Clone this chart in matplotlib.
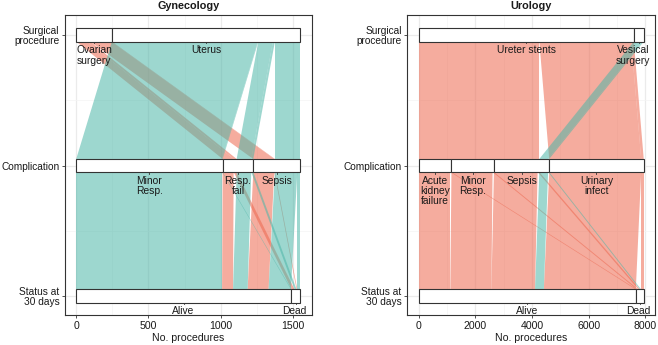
import matplotlib
matplotlib.use("Agg")
import matplotlib.pyplot as plt
from matplotlib.patches import Polygon, Rectangle
import numpy as np

plt.rcParams['font.family'] = ['Liberation Sans', 'DejaVu Sans']

# ------------------------------------------------------------------ data
axis_names = ["Surgical\nprocedure", "Complication", "Status at\n30 days"]
x_label = "No. procedures"

gyn_title = "Gynecology"
gyn_proc_levels = ["Ovarian surgery", "Uterus"]
gyn_proc_labels = ["Ovarian\nsurgery", "Uterus"]
gyn_comp_levels = ["Minor Resp.", "Resp. fail", "Sepsis"]
gyn_comp_labels = ["Minor\nResp.", "Resp.\nfail", "Sepsis"]
gyn_status_levels = ["Alive", "Dead"]
gyn_status_labels = ["Alive", "Dead"]
gyn_procedure = ["Ovarian surgery", "Ovarian surgery", "Ovarian surgery", "Ovarian surgery",
                 "Uterus", "Uterus", "Uterus", "Uterus", "Uterus", "Uterus"]
gyn_complication = ["Resp. fail", "Resp. fail", "Sepsis", "Sepsis",
                    "Minor Resp.", "Minor Resp.", "Resp. fail", "Resp. fail", "Sepsis", "Sepsis"]
gyn_status = ["Alive", "Dead", "Alive", "Dead",
              "Alive", "Dead", "Alive", "Dead", "Alive", "Dead"]
gyn_count = [76, 21, 145, 5, 1010, 4, 101, 14, 155, 22]
gyn_xticks = [0, 500, 1000, 1500]

uro_title = "Urology"
uro_proc_levels = ["Ureter stents", "Vesical surgery"]
uro_proc_labels = ["Ureter stents", "Vesical\nsurgery"]
uro_comp_levels = ["Acute kidney failure", "Minor Resp.", "Sepsis", "Urinary infect"]
uro_comp_labels = ["Acute\nkidney\nfailure", "Minor\nResp.", "Sepsis", "Urinary\ninfect"]
uro_status_levels = ["Alive", "Dead"]
uro_status_labels = ["Alive", "Dead"]
uro_procedure = ["Ureter stents"] * 8 + ["Vesical surgery"] * 2
uro_complication = ["Acute kidney failure", "Acute kidney failure", "Minor Resp.", "Minor Resp.",
                    "Sepsis", "Sepsis", "Urinary infect", "Urinary infect", "Sepsis", "Sepsis"]
uro_status = ["Alive", "Dead"] * 5
uro_count = [1120, 40, 1450, 50, 1540, 60, 3245, 90, 310, 40]
uro_xticks = [0, 2000, 4000, 6000, 8000]

# ------------------------------------------------------------------ style
fill_colors = ['#ED684F', '#4DB6A8']
flow_alpha = 0.55
text_color = '#1a1a1a'
edge_color = '#333333'
half_w = 0.05

W, H = 658, 345
fig = plt.figure(figsize=(W / 100, H / 100), dpi=100)
ax_bottom = 1 - 315 / H
ax_height = 300 / H
ax_g = fig.add_axes([65 / W, ax_bottom, 246.7 / W, ax_height])
ax_u = fig.add_axes([407.3 / W, ax_bottom, 247.7 / W, ax_height])

all_labels = []


def draw_panel(ax, title, levels, labels, columns, counts, xticks):
    n = len(counts)
    idx = [[levels[a].index(columns[a][k]) for k in range(n)] for a in range(3)]
    total = float(sum(counts))
    order_keys = [(0, 1, 2), (1, 0, 2), (2, 1, 0)]
    pos = []
    for a in range(3):
        keys = order_keys[a]
        order = sorted(range(n), key=lambda k: tuple(idx[j][k] for j in keys))
        start = np.zeros(n)
        cum = 0.0
        for k in order:
            start[k] = cum
            cum += counts[k]
        pos.append(start)

    # flows
    for a in range(2):
        y0 = a + 1 + half_w
        y1 = a + 2 - half_w
        for k in range(n):
            s0, s1, c = pos[a][k], pos[a + 1][k], counts[k]
            poly = Polygon([(s0, y0), (s0 + c, y0), (s1 + c, y1), (s1, y1)],
                           closed=True, facecolor=fill_colors[idx[0][k]],
                           alpha=flow_alpha, lw=0, zorder=2)
            ax.add_patch(poly)

    # strata
    for a in range(3):
        cum = 0.0
        for li, lev in enumerate(levels[a]):
            tot = sum(counts[k] for k in range(n) if idx[a][k] == li)
            if tot <= 0:
                continue
            ax.add_patch(Rectangle((cum, a + 1 - half_w), tot, 2 * half_w,
                                   facecolor='white', edgecolor=edge_color,
                                   lw=0.8, zorder=3))
            cx = cum + tot / 2
            yb = a + 1 + half_w
            ax.plot([cx, cx], [yb, yb + 0.015], color=edge_color, lw=0.6, zorder=3)
            t = ax.text(cx, yb + 0.028, labels[a][li], ha='center', va='top',
                        fontsize=7.4, color=text_color, linespacing=1.05, zorder=4)
            all_labels.append((ax, t))
            cum += tot

    ax.set_xticks(xticks)
    ax.set_xticklabels([str(v) for v in xticks])
    step = xticks[1] - xticks[0]
    minor = [v + step / 2 for v in xticks[:-1]]
    ax.set_xticks(minor, minor=True)
    ax.set_yticks([1, 2, 3])
    ax.set_yticklabels(axis_names, linespacing=1.05)
    ax.set_yticks([1.5, 2.5], minor=True)
    ax.set_xlim(-0.05 * total, 1.05 * total)
    ax.set_ylim(3.1456, 0.8467)
    ax.grid(which='major', color='#EBEBEB', lw=0.9)
    ax.grid(which='minor', color='#F4F4F4', lw=0.5)
    ax.set_axisbelow(True)
    ax.tick_params(which='major', length=2.5, width=0.6, color=edge_color,
                   labelsize=7.6, labelcolor=text_color, pad=2)
    ax.tick_params(axis='y', which='major', labelsize=7.3, pad=1.6)
    ax.tick_params(which='minor', length=0)
    for sp in ax.spines.values():
        sp.set_color(edge_color)
        sp.set_linewidth(0.8)
    ax.set_xlabel(x_label, fontsize=7.6, color=text_color, labelpad=1.5)
    ax.set_title(title, fontsize=7.8, fontweight='bold', color=text_color, pad=4)


draw_panel(ax_g, gyn_title,
           [gyn_proc_levels, gyn_comp_levels, gyn_status_levels],
           [gyn_proc_labels, gyn_comp_labels, gyn_status_labels],
           [gyn_procedure, gyn_complication, gyn_status], gyn_count, gyn_xticks)
draw_panel(ax_u, uro_title,
           [uro_proc_levels, uro_comp_levels, uro_status_levels],
           [uro_proc_labels, uro_comp_labels, uro_status_labels],
           [uro_procedure, uro_complication, uro_status], uro_count, uro_xticks)

# keep stratum labels inside the panel
fig.canvas.draw()
renderer = fig.canvas.get_renderer()
for ax, t in all_labels:
    bb = t.get_window_extent(renderer)
    axbb = ax.get_window_extent(renderer)
    shift = 0.0
    if bb.x1 > axbb.x1 - 5:
        shift = (axbb.x1 - 5) - bb.x1
    elif bb.x0 < axbb.x0 + 5:
        shift = (axbb.x0 + 5) - bb.x0
    if shift != 0.0:
        x, y = t.get_position()
        disp = ax.transData.transform((x, y))
        nx = ax.transData.inverted().transform((disp[0] + shift, disp[1]))[0]
        t.set_position((nx, y))

fig.savefig('out.png', dpi=100)
